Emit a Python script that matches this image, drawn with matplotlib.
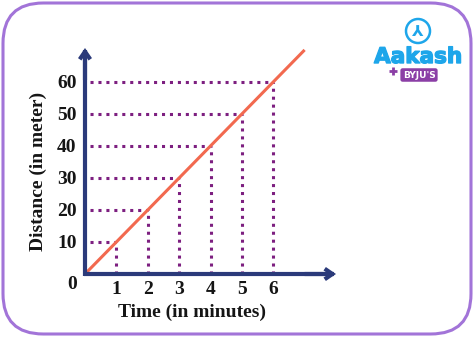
import matplotlib
matplotlib.use("Agg")
import matplotlib.pyplot as plt
import matplotlib.patheffects as pe
from matplotlib.patches import FancyBboxPatch, Circle
from matplotlib.lines import Line2D

# Data
time_min = [0, 1, 2, 3, 4, 5, 6, 7]
distance_m = [0, 10, 20, 30, 40, 50, 60, 70]
x_ticks = [1, 2, 3, 4, 5, 6]
x_tick_labels = ["1", "2", "3", "4", "5", "6"]
y_ticks = [10, 20, 30, 40, 50, 60]
y_tick_labels = ["10", "20", "30", "40", "50", "60"]
x_label = "Time (in minutes)"
y_label = "Distance (in meter)"

W, H = 474, 337
fig = plt.figure(figsize=(W / 100, H / 100), dpi=100)
fig.patch.set_facecolor("white")

# Rounded border
bw, bh = 1 - 6 / W, 1 - 6 / H
border = FancyBboxPatch((3 / W, 3 / H), bw, bh,
                        boxstyle="round,pad=0,rounding_size=0.085",
                        transform=fig.transFigure, fill=False,
                        edgecolor="#a274d8", linewidth=2.2, zorder=0)
border.set_mutation_aspect(W / H)
fig.patches.append(border)

ox, oy = 85, 274
xmax, ymax = 8.0, 70.6
px_x = 251
px_y = 226
ax = fig.add_axes([ox / W, (H - oy) / H, px_x / W, px_y / H])
ax.set_xlim(0, xmax)
ax.set_ylim(0, ymax)
for s in ax.spines.values():
    s.set_visible(False)
ax.patch.set_alpha(0)

serif = "Liberation Serif"
dot_col = "#7d1f80"
axis_col = "#2b3a7a"
line_col = "#f2694f"
txt_col = "#151515"

# dotted guide lines
for t, d in zip(time_min, distance_m):
    if t in x_ticks:
        ax.plot([0.15, t], [d, d], linestyle=(0, (1, 1.6)), color=dot_col,
                linewidth=2.2, solid_capstyle="butt", zorder=2)
        ax.plot([t, t], [0, d], linestyle=(0, (1, 1.6)), color=dot_col,
                linewidth=2.2, solid_capstyle="butt", zorder=2)

# main line
ax.plot(time_min, distance_m, color=line_col, linewidth=2.2, zorder=3,
        solid_capstyle="butt")

# axes arrows
ax.plot([-0.04, xmax - 0.05], [0, 0], color=axis_col, lw=3.0,
        solid_capstyle="butt", clip_on=False, zorder=4)
ax.plot([0, 0], [-0.5, ymax - 0.5], color=axis_col, lw=3.0,
        solid_capstyle="butt", clip_on=False, zorder=4)
arrow_kw = dict(arrowstyle="->,head_length=0.55,head_width=0.38",
                color=axis_col, lw=3.0, shrinkA=0, shrinkB=0,
                joinstyle="miter", capstyle="butt")
ax.annotate("", xy=(xmax, 0), xytext=(xmax - 1, 0), arrowprops=arrow_kw,
            annotation_clip=False, zorder=4)
ax.annotate("", xy=(0, ymax), xytext=(0, ymax - 10), arrowprops=arrow_kw,
            annotation_clip=False, zorder=4)

ax.set_xticks(x_ticks)
ax.set_xticklabels(x_tick_labels, fontfamily=serif, fontweight="bold",
                   fontsize=14, color=txt_col)
ax.set_yticks(y_ticks)
ax.set_yticklabels(y_tick_labels, fontfamily=serif, fontweight="bold",
                   fontsize=14, color=txt_col)
ax.tick_params(length=0, pad=5)
ax.tick_params(axis="y", pad=6)
ax.text(-0.42, -3.2, "0", fontfamily=serif, fontweight="bold", fontsize=14,
        ha="center", va="center", color=txt_col)

fig.text(192 / W, 1 - 312 / H, x_label, fontfamily=serif, fontweight="bold",
         fontsize=14, ha="center", va="center", color=txt_col)
fig.text(38 / W, 1 - 171 / H, y_label, fontfamily=serif, fontweight="bold",
         fontsize=14, ha="center", va="center", rotation=90, color=txt_col)

# logo
logo_col = "#1ea6ea"
circ = Circle((418 / 100, (H - 31) / 100), 12 / 100,
              transform=fig.dpi_scale_trans,
              fill=False, edgecolor=logo_col, linewidth=1.8)
fig.patches.append(circ)
fig.text(418 / W, 1 - 32 / H, "⅄", fontsize=11, color=logo_col,
         ha="center", va="center", fontweight="bold")
fig.text(418 / W, 1 - 57 / H, "Aakash", fontsize=15.5, color=logo_col,
         ha="center", va="center", fontweight="bold", fontfamily="DejaVu Sans",
         path_effects=[pe.withStroke(linewidth=1.0, foreground=logo_col)])
plus = Line2D([393 / W], [1 - 71 / H], marker="+", markersize=6,
              markeredgewidth=2, color="#8b3fa6", transform=fig.transFigure)
fig.lines.append(plus)
fig.text(419 / W, 1 - 75 / H, "BYJU'S", fontsize=6.5, color="white",
         ha="center", va="center", fontweight="bold",
         bbox=dict(boxstyle="round,pad=0.25", facecolor="#8b3fa6",
                   edgecolor="none"))

fig.savefig("out.png", dpi=100, facecolor="white")
